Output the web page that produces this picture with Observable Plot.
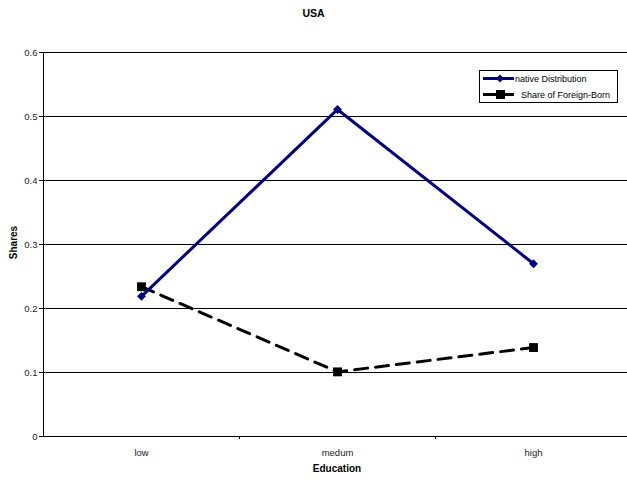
<!DOCTYPE html>
<html><head><meta charset="utf-8">
<script src="https://cdn.jsdelivr.net/npm/d3@7"></script>
<script src="https://cdn.jsdelivr.net/npm/@observablehq/plot@0.6"></script>
<style>
body{margin:0;background:#fff;font-family:"Liberation Sans",Arial,sans-serif;}
#wrap{position:relative;width:627px;height:483px;overflow:hidden;}
.lbl{position:absolute;font-weight:bold;font-size:10px;color:#000;}
#legend{position:absolute;left:479px;top:70px;width:137px;height:31px;border:1px solid #000;background:#fff;}
</style></head><body>
<div id="wrap"></div>
<script>
const categories = ["low", "medum", "high"];
const nativeDistribution = [0.219, 0.511, 0.270];
const foreignBorn = [0.234, 0.101, 0.139];
const yTicks = [0, 0.1, 0.2, 0.3, 0.4, 0.5, 0.6];
const seriesNames = ["native Distribution", "Share of Foreign-Born"];

const nat = categories.map((c, i) => ({i, v: nativeDistribution[i]}));
const fb = categories.map((c, i) => ({i, v: foreignBorn[i]}));

const chart = Plot.plot({
  width: 627, height: 483,
  marginTop: 52, marginBottom: 47, marginLeft: 43, marginRight: 0,
  style: {fontFamily: "Liberation Sans, Arial, sans-serif", fontSize: "10px", color: "#000", background: "#fff"},
  x: {domain: [-0.5, 2.5], range: [43, 631], label: null},
  y: {domain: [0, 0.6], range: [436, 52], label: null},
  marks: [
    Plot.ruleY(yTicks, {stroke: "#000", strokeWidth: 1, x1: -0.5, x2: 2.6}),
    Plot.ruleX([-0.5], {stroke: "#000", strokeWidth: 1}),
    Plot.axisY({ticks: yTicks, tickFormat: d => String(d), tickSize: 4, tickPadding: 2, fill: "#222", fontSize: 9.5, label: null}),
    Plot.axisX({ticks: [0.5, 1.5], tickFormat: () => "", tickSize: 3, label: null}),
    Plot.axisX({ticks: [0, 1, 2], tickFormat: i => categories[i], tickSize: 0, tickPadding: 13, fill: "#222", fontSize: 9.5, label: null}),
    Plot.line(fb, {x: "i", y: "v", stroke: "#000", strokeWidth: 3, strokeDasharray: "13,8"}),
    Plot.dot(fb, {x: "i", y: "v", symbol: "square", r: 5, fill: "#000"}),
    Plot.line(nat, {x: "i", y: "v", stroke: "#000080", strokeWidth: 3}),
    Plot.dot(nat, {x: "i", y: "v", symbol: "diamond2", r: 4, fill: "#000080"})
  ]
});
const wrap = document.getElementById("wrap");
wrap.appendChild(chart);

function addLabel(text, css){const d=document.createElement("div");d.className="lbl";d.textContent=text;Object.assign(d.style,css);wrap.appendChild(d);}
addLabel("USA", {left:"0px", width:"627px", textAlign:"center", top:"7px", fontSize:"10.5px"});
addLabel("Education", {left:"287px", width:"100px", textAlign:"center", top:"463px"});
addLabel("Shares", {left:"-17px", width:"60px", textAlign:"center", top:"237px", transform:"rotate(-90deg)"});

const lg = document.createElement("div"); lg.id = "legend";
lg.innerHTML = `<svg width="137" height="31" style="display:block">
<line x1="3" y1="7.5" x2="34" y2="7.5" stroke="#000080" stroke-width="3"/>
<path d="M20,3.5 L24,7.5 L20,11.5 L16,7.5 Z" fill="#000080"/>
<text x="35" y="11" font-size="9" font-family="Liberation Sans, Arial, sans-serif" fill="#000">${seriesNames[0]}</text>
<line x1="3" y1="23.5" x2="34" y2="23.5" stroke="#000" stroke-width="3"/>
<rect x="16" y="19" width="9" height="9" fill="#000"/>
<text x="41" y="27" font-size="9" font-family="Liberation Sans, Arial, sans-serif" fill="#000">${seriesNames[1]}</text>
</svg>`;
wrap.appendChild(lg);
</script>
</body></html>
